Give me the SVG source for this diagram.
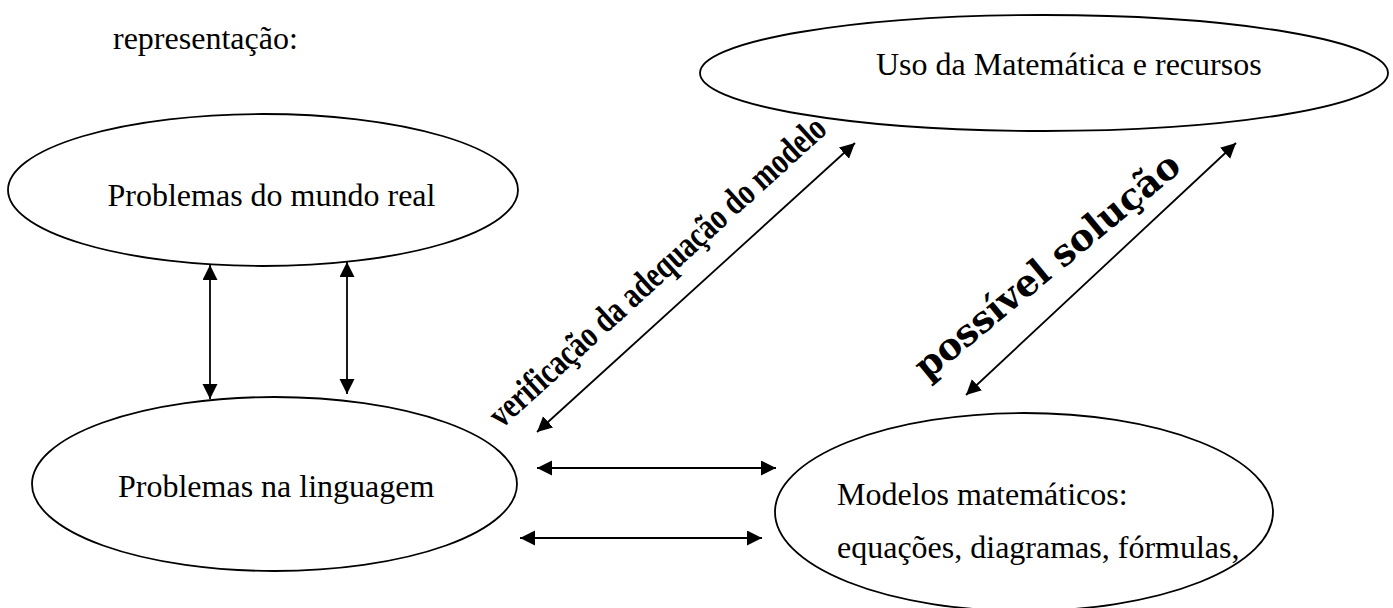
<svg xmlns="http://www.w3.org/2000/svg" width="1393" height="608" viewBox="0 0 1393 608">
<style>
.node ellipse{fill:none;stroke:#000;stroke-width:1.8}
.t{font-family:"Liberation Serif","Times New Roman",serif;font-size:32px;fill:#000}
.conn line{stroke:#000;stroke-width:1.8;fill:none}
.lab1{font-family:"Liberation Serif","Times New Roman",serif;font-weight:bold;font-size:37px;fill:#000}
.lab2{font-family:"DejaVu Serif",serif;font-weight:bold;font-size:37px;fill:#000}
</style>
<defs>
<marker id="ah" markerUnits="userSpaceOnUse" markerWidth="16" markerHeight="16" refX="15" refY="7.5" orient="auto-start-reverse">
<path d="M0,0 L15,7.5 L0,15 Z" fill="#000"/>
</marker>
</defs>
<rect width="1393" height="608" fill="#fff"/>
<text class="t" x="113" y="49">representação:</text>
<g id="n1" class="node">
<ellipse cx="263" cy="190" rx="255" ry="76"/>
<text class="t" x="107.5" y="206">Problemas do mundo real</text>
</g>
<g id="n2" class="node">
<ellipse cx="274.5" cy="484" rx="242.5" ry="87"/>
<text class="t" x="118" y="497">Problemas na linguagem</text>
</g>
<g id="n3" class="node">
<ellipse cx="1044" cy="73" rx="344" ry="58"/>
<text class="t" x="876" y="75">Uso da Matemática e recursos</text>
</g>
<g id="n4" class="node">
<ellipse cx="1024" cy="512" rx="249" ry="99"/>
<text class="t" x="837" y="505">Modelos matemáticos:</text>
<text class="t" x="837" y="558">equações, diagramas, fórmulas,</text>
</g>
<g id="connectors" class="conn">
<line x1="210" y1="265" x2="210" y2="399" marker-start="url(#ah)" marker-end="url(#ah)"/>
<line x1="347" y1="262" x2="347" y2="394" marker-start="url(#ah)" marker-end="url(#ah)"/>
<line x1="537" y1="468" x2="776" y2="468" marker-start="url(#ah)" marker-end="url(#ah)"/>
<line x1="520" y1="538" x2="762" y2="538" marker-start="url(#ah)" marker-end="url(#ah)"/>
<line x1="537" y1="432" x2="855" y2="143" marker-start="url(#ah)" marker-end="url(#ah)"/>
<line x1="966" y1="395" x2="1236" y2="143" marker-start="url(#ah)" marker-end="url(#ah)"/>
<text class="lab1" transform="translate(501.7,429) rotate(-42.3)" x="0" y="0" textLength="442" lengthAdjust="spacingAndGlyphs">verificação da adequação do modelo</text>
<text class="lab2" transform="translate(927,381) rotate(-39.5)" x="0" y="0" textLength="332" lengthAdjust="spacingAndGlyphs">possível solução</text>
</g>
</svg>
